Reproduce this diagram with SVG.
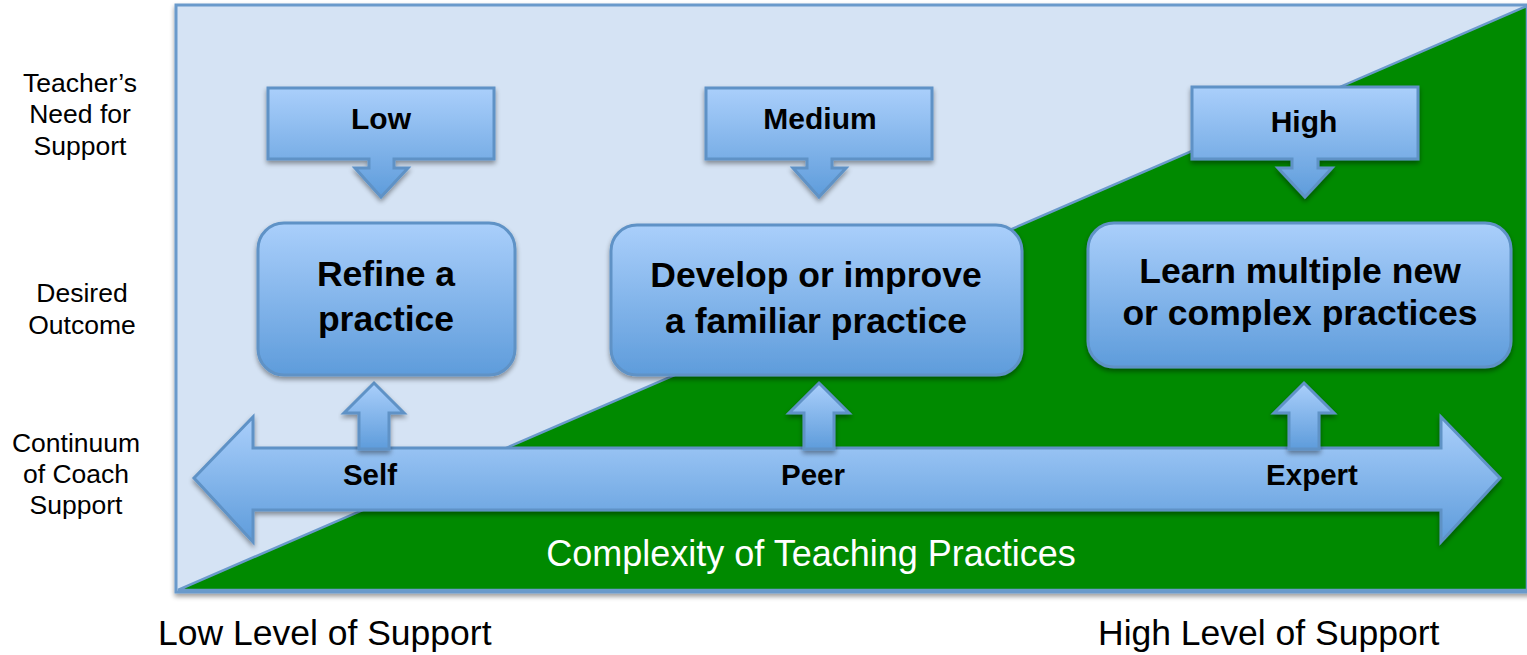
<svg xmlns="http://www.w3.org/2000/svg" width="1527" height="655" viewBox="0 0 1527 655">
<defs>
<linearGradient id="bg" x1="0" y1="0" x2="0" y2="1">
<stop offset="0" stop-color="#AACFFB"/>
<stop offset="1" stop-color="#5E9CDB"/>
</linearGradient>
<filter id="sh" x="-10%" y="-10%" width="120%" height="130%">
<feGaussianBlur in="SourceAlpha" stdDeviation="2.5"/>
<feOffset dy="3" result="b"/>
<feComponentTransfer><feFuncA type="linear" slope="0.4"/></feComponentTransfer>
<feMerge><feMergeNode/><feMergeNode in="SourceGraphic"/></feMerge>
</filter>
<style>
.sh{fill:url(#bg);stroke:#5E92C6;stroke-width:3;filter:url(#sh)}
.lbl{font-family:"Liberation Sans",Arial,sans-serif;font-size:26.5px;fill:#000;text-anchor:middle}
.b{font-family:"Liberation Sans",Arial,sans-serif;font-weight:bold;fill:#000;text-anchor:middle}
.big{font-size:35.5px}
.mid{font-size:30px}
.ax{font-size:29.5px}
.plain{font-family:"Liberation Sans",Arial,sans-serif;font-size:35.5px;fill:#000}
</style>
</defs>
<rect width="1527" height="655" fill="#fff"/>
<g id="background">
<rect x="176" y="5" width="1360" height="587" fill="#D5E3F4" stroke="#6A9ACB" stroke-width="3" filter="url(#sh)"/>
<polygon points="178,590 1527,6 1527,590" fill="#008A00" stroke="#6A9ACB" stroke-width="2.5"/>
</g>
<g id="left-labels">
<text class="lbl" x="80" y="92">Teacher’s</text>
<text class="lbl" x="80" y="123">Need for</text>
<text class="lbl" x="80" y="155">Support</text>
<text class="lbl" x="82" y="302">Desired</text>
<text class="lbl" x="82" y="334">Outcome</text>
<text class="lbl" x="76" y="452">Continuum</text>
<text class="lbl" x="76" y="483">of Coach</text>
<text class="lbl" x="76" y="514">Support</text>
</g>
<g id="connectors">
<path class="sh" d="M194,478 L253,417 L253,448 L1441,448 L1441,417 L1500,478 L1441,542 L1441,510 L253,510 L253,542 Z"/>
<path class="sh" d="M374,383 L404,413 L389,413 L389,449 L359,449 L359,413 L344,413 Z"/>
<path class="sh" d="M819,383 L849,413 L834,413 L834,449 L804,449 L804,413 L789,413 Z"/>
<path class="sh" d="M1304,383 L1334,413 L1319,413 L1319,449 L1289,449 L1289,413 L1274,413 Z"/>
</g>
<g id="axis-labels">
<text class="b ax" x="370" y="485">Self</text>
<text class="b ax" x="813" y="485">Peer</text>
<text class="b ax" x="1312" y="485">Expert</text>
</g>
<g id="need-low">
<path class="sh" d="M268,88 L494,88 L494,159 L394,159 L394,168 L408,168 L381,197 L355,168 L369,168 L369,159 L268,159 Z"/>
<text class="b mid" x="381" y="129">Low</text>
</g>
<g id="need-medium">
<path class="sh" d="M706,88 L932,88 L932,159 L832,159 L832,168 L846,168 L819,197 L793,168 L807,168 L807,159 L706,159 Z"/>
<text class="b mid" x="820" y="129">Medium</text>
</g>
<g id="need-high">
<path class="sh" d="M1192,87 L1418,87 L1418,159 L1318,159 L1318,168 L1332,168 L1305,197 L1278,168 L1292,168 L1292,159 L1192,159 Z"/>
<text class="b mid" x="1304" y="132">High</text>
</g>
<g id="outcome-refine">
<rect class="sh" x="258" y="223" width="257" height="152" rx="26"/>
<text class="b big" x="386" y="286">Refine a</text>
<text class="b big" x="386" y="331">practice</text>
</g>
<g id="outcome-develop">
<rect class="sh" x="611" y="225" width="411" height="150" rx="26"/>
<text class="b big" x="816" y="287">Develop or improve</text>
<text class="b big" x="816" y="333">a familiar practice</text>
</g>
<g id="outcome-learn">
<rect class="sh" x="1088" y="223" width="423" height="144" rx="26"/>
<text class="b big" x="1300" y="283">Learn multiple new</text>
<text class="b big" x="1300" y="325">or complex practices</text>
</g>
<g id="bottom-labels">
<text x="811" y="566" font-family="Liberation Sans, Arial, sans-serif" font-size="36" fill="#fff" text-anchor="middle">Complexity of Teaching Practices</text>
<text class="plain" x="158" y="645">Low Level of Support</text>
<text class="plain" x="1098" y="645">High Level of Support</text>
</g>
</svg>
